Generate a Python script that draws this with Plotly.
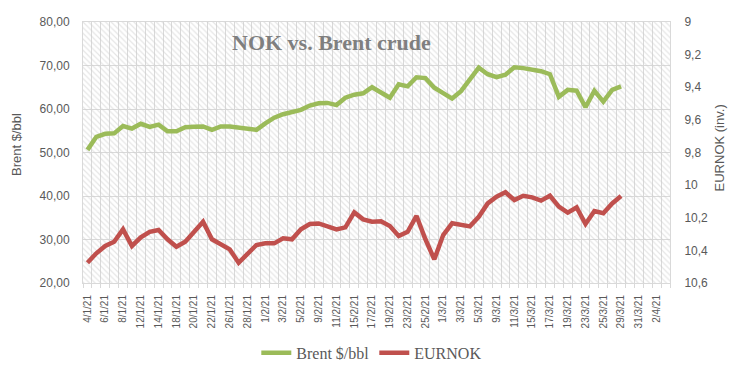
import plotly.graph_objects as go

# ---- data ----
dates = ["4/1/21", "5/1/21", "6/1/21", "7/1/21", "8/1/21", "11/1/21", "12/1/21", "13/1/21", "14/1/21", "15/1/21",
         "18/1/21", "19/1/21", "20/1/21", "21/1/21", "22/1/21", "25/1/21", "26/1/21", "27/1/21", "28/1/21", "29/1/21",
         "1/2/21", "2/2/21", "3/2/21", "4/2/21", "5/2/21", "8/2/21", "9/2/21", "10/2/21", "11/2/21", "12/2/21",
         "15/2/21", "16/2/21", "17/2/21", "18/2/21", "19/2/21", "22/2/21", "23/2/21", "24/2/21", "25/2/21", "26/2/21",
         "1/3/21", "2/3/21", "3/3/21", "4/3/21", "5/3/21", "8/3/21", "9/3/21", "10/3/21", "11/3/21", "12/3/21",
         "15/3/21", "16/3/21", "17/3/21", "18/3/21", "19/3/21", "22/3/21", "23/3/21", "24/3/21", "25/3/21", "26/3/21",
         "29/3/21", "30/3/21", "31/3/21", "1/4/21", "2/4/21", "5/4/21"]

brent = [50.6, 53.6, 54.3, 54.4, 56.1, 55.5, 56.6, 55.9, 56.4, 54.9,
         54.9, 55.8, 55.9, 56.0, 55.2, 56.0, 56.0, 55.7, 55.4, 55.2,
         56.7, 58.0, 58.8, 59.2, 59.8, 60.8, 61.3, 61.4, 60.9, 62.6,
         63.3, 63.6, 65.0, 63.8, 62.6, 65.7, 65.2, 67.3, 67.1, 64.9,
         63.5, 62.4, 64.1, 66.8, 69.5, 68.0, 67.3, 67.9, 69.6, 69.4,
         69.0, 68.7, 68.0, 62.8, 64.4, 64.2, 60.4, 64.2, 61.7, 64.4,
         65.2]

eurnok = [10.476, 10.418, 10.373, 10.347, 10.271, 10.373, 10.320, 10.286, 10.275, 10.332,
          10.378, 10.347, 10.286, 10.224, 10.332, 10.361, 10.394, 10.476, 10.418, 10.367,
          10.357, 10.357, 10.326, 10.332, 10.271, 10.238, 10.235, 10.255, 10.271, 10.259,
          10.167, 10.210, 10.224, 10.222, 10.251, 10.312, 10.286, 10.189, 10.332, 10.455,
          10.306, 10.234, 10.245, 10.253, 10.194, 10.112, 10.071, 10.044, 10.091, 10.065,
          10.075, 10.095, 10.065, 10.132, 10.169, 10.137, 10.238, 10.159, 10.172, 10.112,
          10.067]

left_ticks = [20, 30, 40, 50, 60, 70, 80]
right_ticks = [9.0, 9.2, 9.4, 9.6, 9.8, 10.0, 10.2, 10.4, 10.6]
right_labels = ["9", "9,2", "9,4", "9,6", "9,8", "10", "10,2", "10,4", "10,6"]

# ---- styling ----
GRID = "#d9d9d9"
TXT = "#595959"
SANS = "Liberation Sans, Arial, sans-serif"
SERIF = "Liberation Serif, Times New Roman, serif"

n = len(dates)
xr = [-0.5, n - 0.5]
yr = [left_ticks[0], left_ticks[-1]]
idx = list(range(n))

fig = go.Figure()

# hatched plot-area background (decoration spanning the axis ranges)
fig.add_trace(go.Bar(
    x=[(xr[0] + xr[1]) / 2], y=[yr[1] - yr[0]], base=[yr[0]], width=[xr[1] - xr[0]],
    marker=dict(color="rgba(0,0,0,0)", line=dict(width=0),
                pattern=dict(shape="\\", fgcolor="#cccccc", bgcolor="rgba(0,0,0,0)",
                             size=4, solidity=0.3, fillmode="overlay")),
    showlegend=False, hoverinfo="skip", xaxis="x", yaxis="y"))

fig.add_trace(go.Scatter(
    x=idx[:len(brent)], y=brent, mode="lines", name="Brent $/bbl",
    line=dict(color="#9BBB59", width=4.5), yaxis="y"))

fig.add_trace(go.Scatter(
    x=idx[:len(eurnok)], y=eurnok, mode="lines", name="EURNOK",
    line=dict(color="#C0504D", width=4.5), yaxis="y2"))

fig.update_layout(
    width=744, height=376,
    margin=dict(l=83, r=74, t=22, b=93, autoexpand=False),
    paper_bgcolor="white", plot_bgcolor="white",
    separators=",.",
    font=dict(family=SANS, color=TXT, size=12),
    bargap=0,
    xaxis=dict(
        range=xr, tickmode="array", tickvals=idx[::2], ticktext=dates[::2],
        tickangle=-90, tickfont=dict(size=10, color=TXT, family=SANS),
        showgrid=False, zeroline=False, automargin=False,
        ticks="outside", ticklen=7, tickcolor="rgba(0,0,0,0)",
        showline=True, linecolor=GRID, linewidth=1, mirror=True,
        minor=dict(tickmode="linear", tick0=-0.5, dtick=1, showgrid=True,
                   gridcolor=GRID, gridwidth=1, ticks="outside", ticklen=4, tickcolor=GRID),
    ),
    yaxis=dict(
        range=yr, tickvals=left_ticks, tickformat=".2f",
        tickfont=dict(size=12, color=TXT, family=SANS),
        showgrid=True, gridcolor=GRID, gridwidth=1, zeroline=False, automargin=False,
        ticks="outside", ticklen=10, tickcolor="rgba(0,0,0,0)",
        showline=True, linecolor=GRID, mirror=True,
    ),
    yaxis2=dict(
        overlaying="y", side="right", range=[right_ticks[-1], right_ticks[0]],
        tickmode="array", tickvals=right_ticks, ticktext=right_labels,
        tickfont=dict(size=12, color=TXT, family=SANS),
        showgrid=False, zeroline=False, automargin=False,
        ticks="outside", ticklen=11, tickcolor="rgba(0,0,0,0)",
        showline=False,
    ),
    legend=dict(orientation="h", x=0.492, xanchor="center", y=-0.268, yanchor="middle",
                font=dict(family=SERIF, size=16, color=TXT), bgcolor="rgba(0,0,0,0)",
                itemwidth=30),
    annotations=[
        dict(text="<b>NOK vs. Brent crude</b>", xref="paper", yref="paper",
             x=0.4225, y=0.923, xanchor="center", yanchor="middle", showarrow=False,
             font=dict(family=SERIF, size=22, color="#7f7f7f")),
        dict(text="Brent $/bbl", xref="paper", yref="paper", x=-0.1124, y=0.529,
             xanchor="center", yanchor="middle", textangle=-90, showarrow=False,
             font=dict(family=SANS, size=13, color=TXT)),
        dict(text="EURNOK (inv.)", xref="paper", yref="paper", x=1.085, y=0.519,
             xanchor="center", yanchor="middle", textangle=-90, showarrow=False,
             font=dict(family=SANS, size=13, color=TXT)),
    ],
)

fig.write_html("out.html", config={"displayModeBar": False},
               post_script="document.body.style.margin='0';")
